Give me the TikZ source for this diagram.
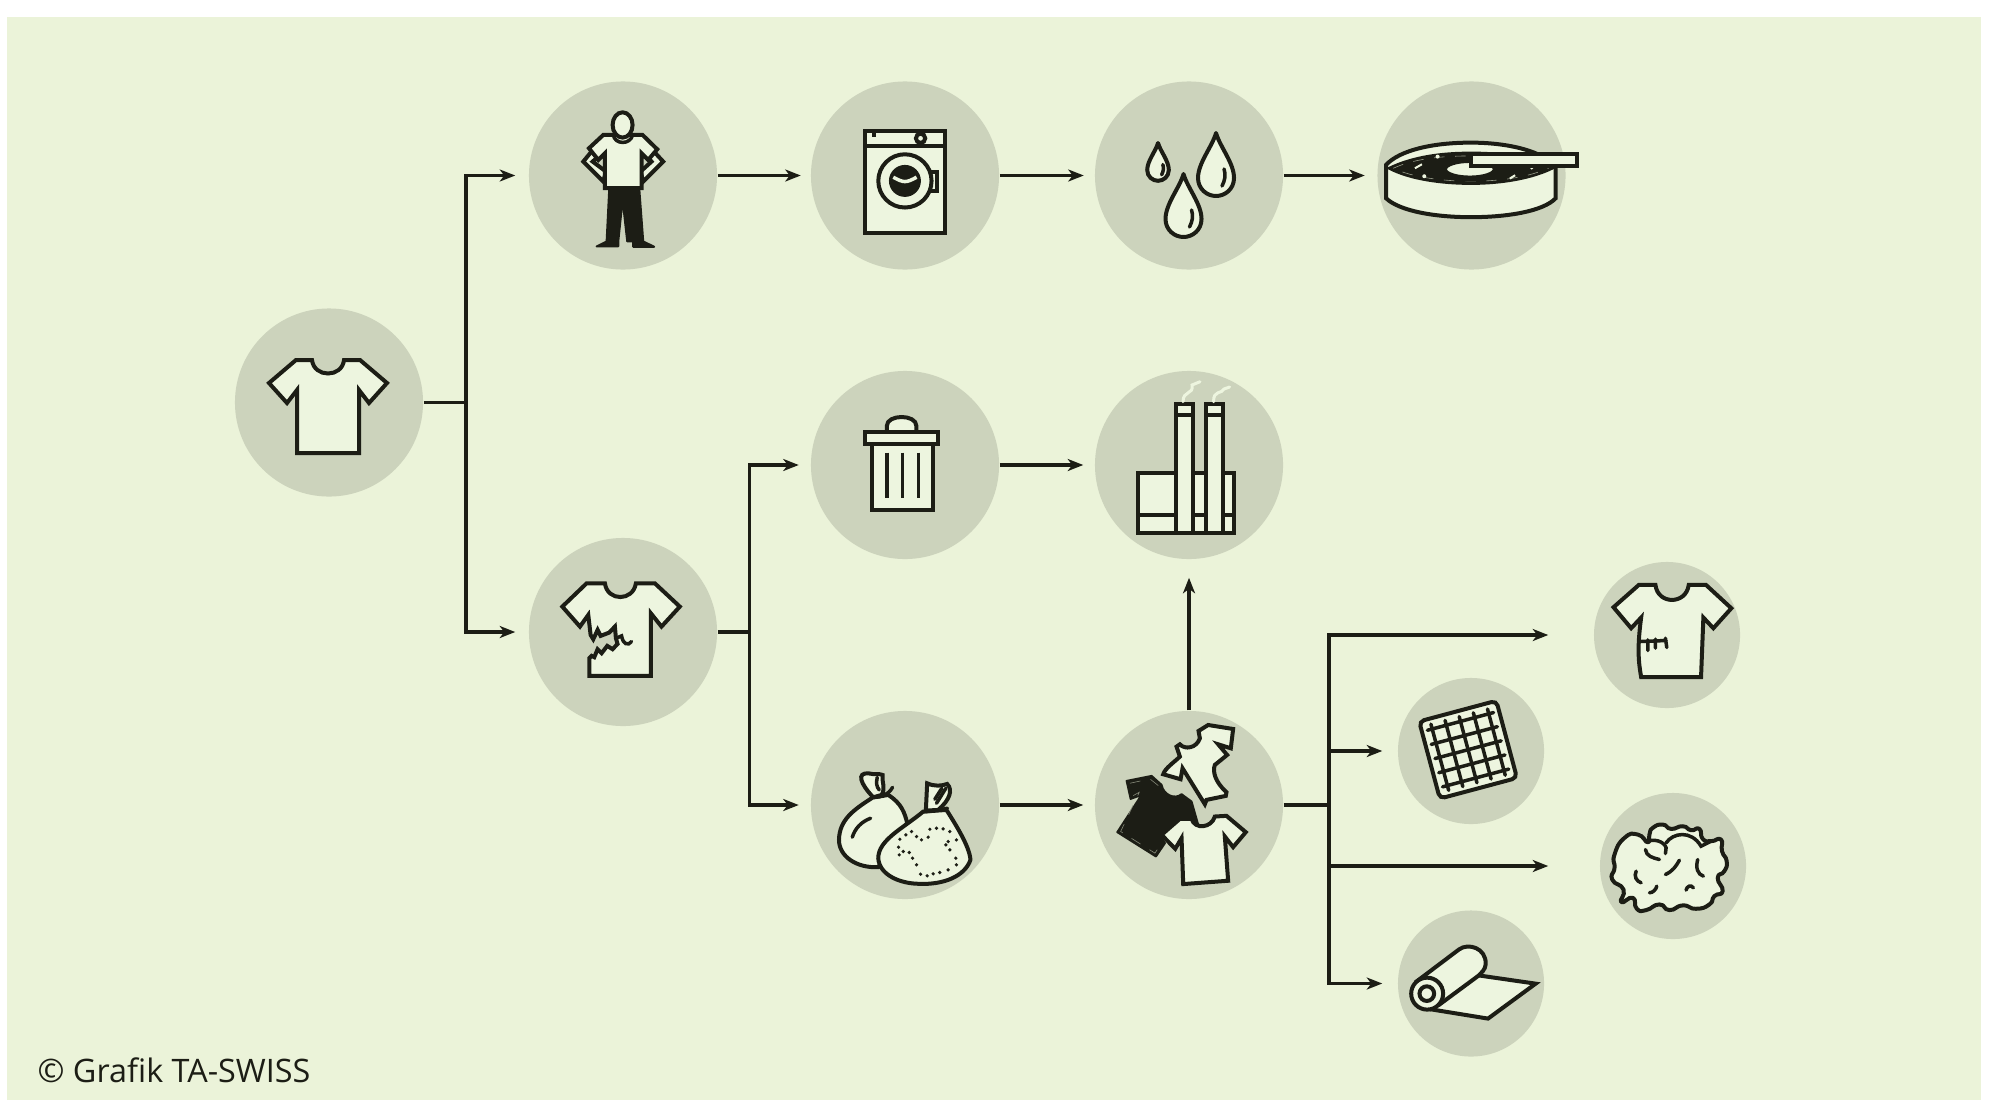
\documentclass[tikz,border=0pt]{standalone}
\usepackage{fontspec}
\setmainfont{Open Sans}
\usepackage{xcolor}
\usetikzlibrary{arrows.meta, positioning}
\definecolor{panelbg}{HTML}{EBF3D9}
\definecolor{discbg}{HTML}{CCD3BC}
\definecolor{ink}{HTML}{1C1D15}
\definecolor{pale}{HTML}{EDF5DF}
\tikzset{
  disc/.style={
    circle,
    fill=discbg,
    minimum size=1.88cm,
    inner sep=0pt
  },
  small disc/.style={
    disc,
    minimum size=1.46cm
  },
  link/.style={
    line width=0.034cm,
    color=ink
  },
  flow/.style={
    link,
    -{Stealth[length=0.155cm, width=0.12cm, inset=0.045cm]}
  },
  icon/.style={
    draw=ink,
    fill=pale,
    line width=0.04cm,
    line join=miter
  },
  detail/.style={
    draw=ink,
    line width=0.035cm,
    line cap=round,
    fill=none
  },
  solid ink/.style={
    draw=ink,
    fill=ink,
    line width=0.02cm,
    line join=round
  },
  zoomed/.style={x=0.003333cm, y=-0.003333cm},
  tee/.pic={
    \draw[icon] (-16,0) .. controls (-14,18) and (14,18) .. (16,0) -- (32,0) -- (59,23) -- (41,43) -- (31,30)
      -- (31,93) -- (-31,93) -- (-31,30) -- (-41,43) -- (-59,23) -- (-32,0) -- cycle;
  },
  raindrop/.pic={
    \draw[icon, line join=round] (0,0) .. controls (4,14) and (18,30) .. (18,45) .. controls (18,56) and (9,63) .. (0,63)
      .. controls (-9,63) and (-18,56) .. (-18,45) .. controls (-18,30) and (-4,14) .. (0,0) -- cycle;
    \draw[detail] (8,36) .. controls (10,42) and (9,47) .. (6,53);
  }
}
\begin{document}
\begin{tikzpicture}[x=0.01cm, y=-0.01cm]
  \useasboundingbox (0,0) rectangle (1989,1100);
  \fill[panelbg] (7,17) rectangle (1981,1100);

  % Discs
  \node[disc] (shirt) at (329,402.5) {};
  \node[disc] (person) at (623,175.5) {};
  \node[disc] (washer) at (905,175.5) {};
  \node[disc] (drops) at (1189,175.5) {};
  \node[disc] (can) at (1471.5,175.5) {};
  \node[disc] (torn) at (623,632) {};
  \node[disc] (trash) at (905,465) {};
  \node[disc] (plant) at (1189,465) {};
  \node[disc] (bags) at (905,805) {};
  \node[disc] (clothes) at (1189,805) {};
  \node[small disc] (mended) at (1667,635) {};
  \node[small disc] (mesh) at (1471,751) {};
  \node[small disc] (fluff) at (1673,866) {};
  \node[small disc] (roll) at (1471,983.5) {};

  % Connectors
  \coordinate (forkA) at (466,402.5);
  \coordinate (forkB) at (749.5,632);
  \coordinate (forkC) at (1329,805);
  \draw[link] (shirt) -- (forkA);
  \draw[flow, shorten >=0.13cm] (forkA) |- (person);
  \draw[flow, shorten >=0.13cm] (forkA) |- (torn);
  \draw[flow, shorten >=0.095cm] (person) -- (washer);
  \draw[flow, shorten >=0.105cm] (washer) -- (drops);
  \draw[flow, shorten >=0.12cm] (drops) -- (can);
  \draw[link] (torn) -- (forkB);
  \draw[flow, shorten >=0.115cm] (forkB) |- (trash);
  \draw[flow, shorten >=0.115cm] (forkB) |- (bags);
  \draw[flow, shorten >=0.11cm] (trash) -- (plant);
  \draw[flow, shorten >=0.11cm] (bags) -- (clothes);
  \draw[flow, shorten >=0.18cm] (clothes) -- (plant);
  \draw[link] (clothes) -- (forkC);
  \draw[flow, shorten >=0.45cm] (forkC) |- (mended);
  \draw[flow, shorten >=0.15cm] (forkC) |- (mesh);
  \draw[flow, shorten >=0.51cm] (forkC) |- (fluff);
  \draw[flow, shorten >=0.15cm] (forkC) |- (roll);

  % Shirt
  \pic at (328,360) {tee};

  % Person
  \begin{scope}[shift={(570,100)}, zoomed]
    \draw[icon] (62,158) -- (40,185) -- (100,245) -- (108,215) -- (68,185) -- (85,170);
    \draw[icon] (255,158) -- (280,185) -- (220,245) -- (212,215) -- (245,185) -- (232,170);
    \draw[solid ink] (118,265) -- (110,425) -- (80,440) -- (145,440) -- (145,425) -- (158,300)
      -- (172,425) -- (190,425) -- (190,441) -- (253,441) -- (220,425) -- (208,265) -- cycle;
    \draw[icon] (100,105) -- (57,145) -- (85,180) -- (105,160) -- (105,265) -- (215,265) -- (215,160)
      -- (235,180) -- (262,148) -- (218,105) -- cycle;
    \draw[detail] (130,105) .. controls (135,135) and (182,135) .. (188,105);
    \draw[icon] (158,75) ellipse [x radius=30, y radius=38];
  \end{scope}

  % Washer
  \begin{scope}[shift={(855,120)}, zoomed]
    \draw[icon] (31,33) rectangle (269,340);
    \draw[detail, line cap=butt] (31,78) -- (269,78);
    \draw[icon] (197,55) circle [radius=14];
    \draw[detail, dotted, line cap=butt] (57,40) -- (57,70);
    \draw[icon] (225,157) rectangle (245,212);
    \draw[icon] (150,183) circle [radius=80];
    \draw[solid ink] (150,183) circle [radius=45];
    \draw[draw=pale, line width=0.035cm] (115,172) .. controls (130,180) and (140,185) .. (150,185) .. controls (160,185) and (170,180) .. (185,172);
  \end{scope}

  % Drops
  \pic[scale=0.6] at (1158,143) {raindrop};
  \pic at (1216,133) {raindrop};
  \pic at (1183.5,174) {raindrop};

  % Can
  \begin{scope}[shift={(1370,120)}, zoomed]
    \draw[icon] (48,135) -- (48,235) .. controls (90,275) and (200,292) .. (303,292) .. controls (410,292) and (520,275) .. (558,235)
      -- (558,140) .. controls (520,95) and (420,68) .. (303,68) .. controls (190,68) and (90,90) .. (48,135) -- cycle;
    \draw[solid ink] (55,145) .. controls (130,108) and (220,98) .. (303,98) .. controls (400,98) and (490,110) .. (550,145)
      .. controls (490,175) and (400,192) .. (303,192) .. controls (220,192) and (120,180) .. (55,145) -- cycle;
    \draw[draw=discbg!70!ink, line width=0.006cm, dashed] (70,145) .. controls (135,115) and (220,108) .. (303,108) .. controls (400,108) and (480,118) .. (535,145)
      .. controls (480,170) and (400,184) .. (303,184) .. controls (220,184) and (125,172) .. (70,145);
    \draw[icon] (225,162) .. controls (240,185) and (360,185) .. (375,162) -- (375,148) -- (225,148) -- cycle;
    \draw[icon] (300,148) ellipse [x radius=75, y radius=25];
    \fill[pale] (203,110) circle [radius=6] (163,169) circle [radius=6] (486,144) circle [radius=5];
    \draw[draw=pale, line width=0.02cm] (135,145) -- (156,133) (420,176) -- (436,166);
    \draw[icon, line width=0.035cm] (303,102) rectangle (622,138);
  \end{scope}

  % Torn shirt
  \begin{scope}[shift={(550,570)}, zoomed]
    \draw[icon] (165,40) .. controls (172,95) and (250,95) .. (258,40) -- (315,40) -- (390,110) -- (335,170) -- (303,130)
      -- (303,318) -- (118,318) -- (118,265) -- (125,258) -- (133,262) -- (143,238) -- (155,250) -- (172,228) -- (188,238) -- (203,222)
      -- (198,205) -- (195,170) -- (178,188) -- (152,198) -- (143,180) -- (130,208) -- (122,195) -- (115,135) -- (90,170) -- (37,110) -- (110,40) -- cycle;
    \draw[detail] (198,205) -- (215,198) .. controls (220,225) and (235,228) .. (245,215);
  \end{scope}

  % Trash
  \draw[icon] (871.5,444) rectangle (932.8,510);
  \draw[icon] (886.8,431.7) -- (886.8,426) .. controls (886.8,414) and (916.4,414) .. (916.4,426) -- (916.4,431.7);
  \draw[icon] (865.4,431.7) rectangle (938.4,444);
  \foreach \barx in {886.8,902.7,918.5}
    \draw[detail, line cap=butt] (\barx,452.7) -- (\barx,498.3);

  % Plant
  \draw[icon] (1138,473.3) rectangle (1234.3,533.3);
  \draw[detail, line cap=butt] (1138,515) -- (1234.3,515);
  \foreach \stackx in {1176.4,1206.4} {
    \draw[icon] (\stackx,404.3) rectangle (\stackx+16.5,533.3);
    \draw[detail, line cap=butt] (\stackx,415) -- (\stackx+16.5,415);
  }
  \draw[draw=pale, line width=0.03cm, line cap=round] (1183,401.7) .. controls (1183,390) and (1194,395) .. (1192,385) -- (1200,381.7);
  \draw[draw=pale, line width=0.03cm, line cap=round] (1213.6,401.7) .. controls (1213,390) and (1222,394) .. (1224,389) -- (1229.6,387);

  % Bags
  \begin{scope}[shift={(820,760)}, zoomed]
    \draw[icon] (160,112) .. controls (120,70) and (110,38) .. (145,40) .. controls (165,45) and (180,40) .. (188,45) .. controls (185,65) and (198,85) .. (185,105) -- cycle;
    \draw[detail] (172,52) .. controls (168,70) and (170,80) .. (178,90);
    \draw[icon] (158,113) .. controls (100,150) and (58,180) .. (57,240) .. controls (57,290) and (110,325) .. (175,322) -- (262,190)
      .. controls (255,160) and (245,130) .. (205,105) -- cycle;
    \draw[detail] (160,112) .. controls (185,112) and (205,105) .. (218,82);
    \draw[detail] (97,232) .. controls (105,205) and (125,185) .. (152,175);
    \draw[icon] (318,152) -- (322,70) .. controls (345,80) and (365,78) .. (382,72) .. controls (400,90) and (390,120) .. (355,150) -- cycle;
    \draw[detail] (378,85) -- (350,130);
    \draw[detail] (366,85) -- (345,118);
    \draw[icon] (310,155) .. controls (250,205) and (175,240) .. (175,295) .. controls (178,345) and (240,372) .. (300,372)
      .. controls (370,375) and (435,350) .. (452,300) .. controls (450,260) and (405,190) .. (380,150) -- cycle;
    \draw[detail] (310,155) .. controls (335,155) and (360,150) .. (383,145);
    \foreach \dotx/\doty in {238/285,236/262,240/238,258/225,275/215,290/230,305/240,325/232,330/208,350/205,370/207,390/215,410/240,385/245,378/255,390/270,408/295,410/315,385/330,360/338,340/342,322/348,302/343,290/315,278/295,268/278,250/275}
      \fill[ink] (\dotx,\doty) circle [radius=5.5];
  \end{scope}

  % Clothes
  \begin{scope}[shift={(1100,715)}, zoomed]
    \draw[icon] (296,48) -- (325,30) -- (400,42) -- (393,100) -- (355,88) -- (382,120) -- (345,150) .. controls (338,170) and (345,200) .. (380,232) -- (378,243)
      -- (320,255) -- (315,268) -- (248,160) -- (242,193) -- (190,178) .. controls (195,160) and (225,140) .. (240,125) -- (230,95) -- (240,88)
      .. controls (255,105) and (290,100) .. (300,70) -- cycle;
    \draw[solid ink] (80,198) -- (155,183) -- (185,210) .. controls (190,240) and (225,255) .. (245,238) -- (275,260) -- (295,330) -- (180,360) -- (195,385) -- (168,425) -- (52,352) -- (125,240) -- (92,252) -- cycle;
    \draw[draw=discbg!60!ink, line width=0.006cm, dashed] (90,205) -- (150,192) -- (175,212) (100,242) -- (118,232) -- (62,350) -- (165,415) -- (185,385);
    \draw[icon] (275,312) .. controls (285,345) and (335,340) .. (345,305) -- (380,303) -- (438,352) -- (400,397) -- (375,365) -- (385,498) -- (250,508) -- (245,370) -- (226,402) -- (185,360) -- (240,312) -- cycle;
  \end{scope}

  % Mended shirt, mesh, fluff and roll
  \begin{scope}[shift={(1300,550)}, zoomed]
    \draw[icon] (1068,105) .. controls (1075,165) and (1160,165) .. (1168,105) -- (1220,105) -- (1296,175) -- (1242,235) -- (1212,203) -- (1205,382)
      -- (1025,382) .. controls (1018,340) and (1012,300) .. (1025,203) -- (995,235) -- (942,172) -- (1018,105) -- cycle;
    \draw[detail] (1018,275) -- (1100,272) (1045,270) -- (1045,302) (1068,268) -- (1068,295) (1098,265) -- (1102,293);

    \begin{scope}[shift={(505,600)}, rotate=15]
      \draw[icon, rounded corners=0.05cm] (-120,-120) rectangle (120,120);
      \foreach \gridpos in {-88,-44,0,44,88} {
        \draw[detail] (\gridpos,-103) -- (\gridpos,103);
        \draw[detail] (-103,\gridpos) -- (103,\gridpos);
      }
    \end{scope}

    \draw[icon, line join=round] plot[smooth cycle, tension=1] coordinates {(1050,855) (1060,835) (1090,825) (1115,838) (1150,830) (1175,842) (1200,838) (1210,868) (1235,875) (1265,870) (1268,905) (1282,935) (1275,965) (1255,985) (1270,1025) (1245,1040) (1230,1065) (1190,1078) (1150,1068) (1110,1082) (1080,1065) (1040,1082) (1012,1078) (1000,1045) (965,1058) (972,1020) (938,990) (945,955) (945,915) (975,865) (1015,855) (1045,878)};
    \draw[detail] (1040,878) .. controls (1060,865) and (1095,875) .. (1100,895) -- (1098,912);
    \draw[detail] (1100,880) .. controls (1120,850) and (1175,840) .. (1205,890) -- (1235,875);
    \draw[detail] (1038,900) .. controls (1040,920) and (1060,925) .. (1080,930);
    \draw[detail] (1098,975) .. controls (1120,965) and (1130,950) .. (1140,932);
    \draw[detail] (1195,930) .. controls (1188,955) and (1195,975) .. (1212,980);
    \draw[detail] (1010,965) .. controls (1003,980) and (1010,995) .. (1025,1000);
    \draw[detail] (1050,1030) .. controls (1060,1030) and (1070,1020) .. (1072,1010);
    \draw[detail] (1160,1022) .. controls (1162,1010) and (1175,1005) .. (1182,1015);

    \draw[icon] (380,1378) -- (565,1408) -- (708,1303) -- (535,1278) -- cycle;
    \draw[icon] (352,1295) -- (478,1200) .. controls (505,1180) and (560,1195) .. (558,1245) .. controls (556,1262) and (545,1270) .. (535,1280) -- (420,1365) -- cycle;
    \draw[icon] (382,1333) circle [radius=48];
    \draw[icon] (381,1333) circle [radius=22];
  \end{scope}

  % Credit
  \node[anchor=base west, inner sep=0pt, text=ink, font=\fontsize{9.2pt}{11pt}\selectfont] (credit) at (37,1082) {© Grafik TA-SWISS};
\end{tikzpicture}
\end{document}
